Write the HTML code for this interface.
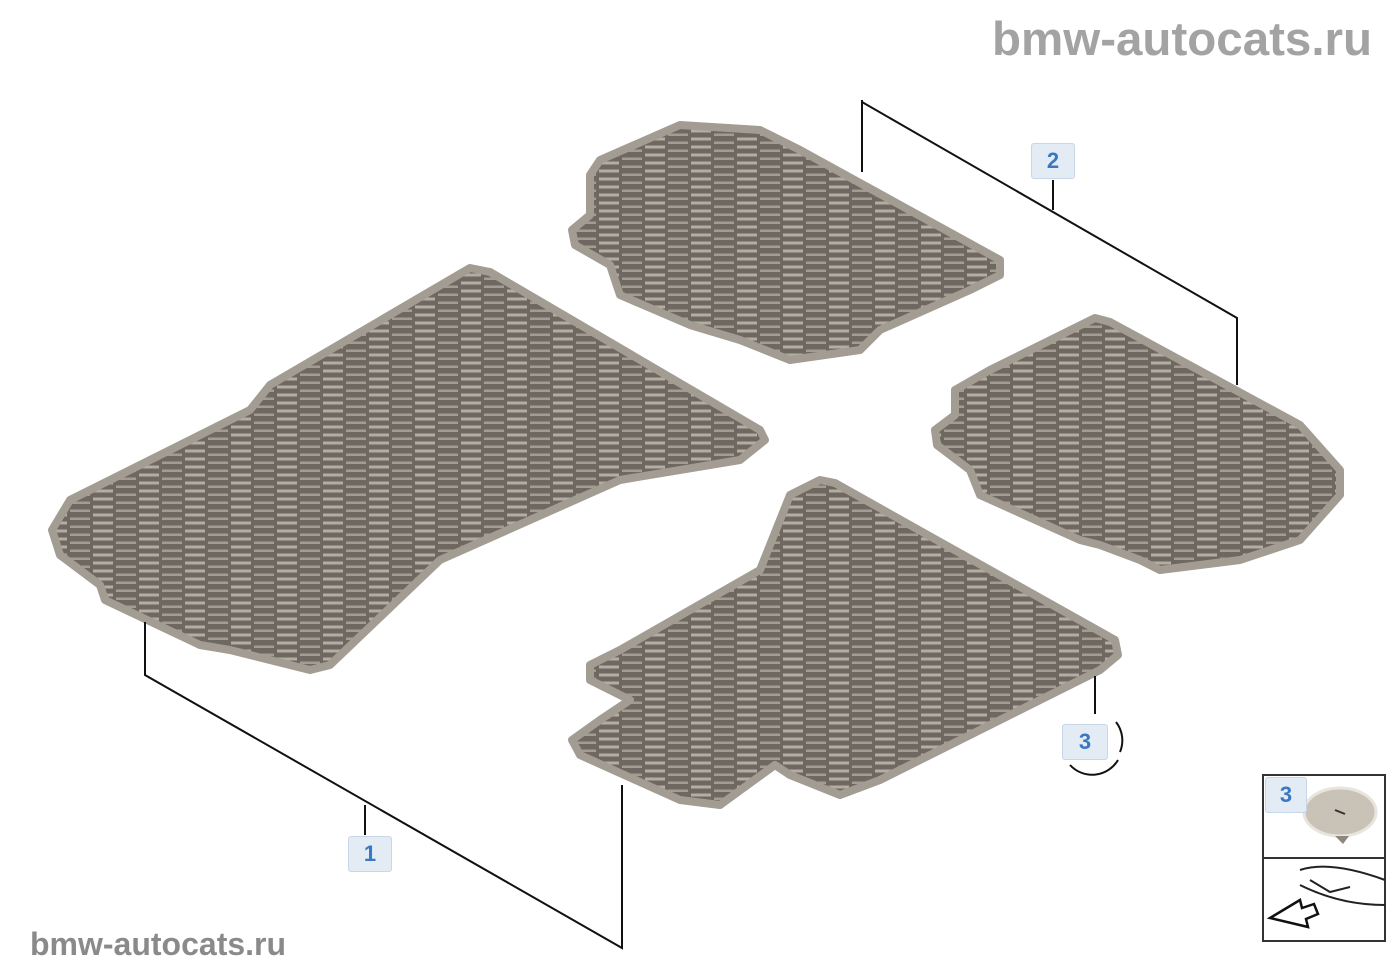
<!DOCTYPE html>
<html><head><style>
body{margin:0;background:#fff;width:1400px;height:980px;overflow:hidden;position:relative;font-family:"Liberation Sans",sans-serif}
.wm{position:absolute;color:#a3a3a3;font-weight:bold;white-space:nowrap}
.lb{position:absolute;width:42px;height:34px;background:#e3ebf4;border:1px solid #c9d6e6;border-radius:3px;color:#3a78c0;font-weight:bold;font-size:22px;text-align:center;line-height:34px}
</style></head><body>
<svg width="1400" height="980" style="position:absolute;left:0;top:0">
<defs>
<pattern id="st" width="46" height="8" patternUnits="userSpaceOnUse">
<rect width="46" height="8" fill="#6e6861"/>
<rect x="1" y="1.5" width="20" height="3" fill="#b3ada4"/>
<rect x="24" y="5.5" width="20" height="2.5" fill="#a29c93"/>
</pattern>
</defs>
<g stroke="#a29c92" stroke-width="8" stroke-linejoin="round" fill="url(#st)">
<polygon points="52,530 70,500 250,410 270,385 470,268 490,272 760,430 765,440 740,460 620,480 440,560 330,665 310,670 230,650 200,645 105,600 100,585 60,555"/>
<polygon points="590,175 600,160 680,125 760,130 800,150 1000,260 1000,275 970,290 880,330 860,350 790,360 740,340 690,325 620,295 610,265 575,245 572,230 590,215"/>
<polygon points="955,390 990,370 1095,318 1110,322 1300,425 1340,470 1340,495 1300,540 1240,560 1160,570 1140,560 1100,545 1080,540 980,495 970,470 937,445 935,430 955,415"/>
<polygon points="590,665 620,650 760,570 790,495 820,480 835,483 1115,640 1118,655 1100,670 1000,720 880,780 840,795 790,775 775,765 720,805 680,800 580,755 572,740 600,720 630,700 590,680"/>
</g>
<g stroke="#111" stroke-width="2" fill="none">
<polyline points="145,622 145,675 622,948 622,785"/>
<line x1="365" y1="805" x2="365" y2="835"/>
<polyline points="862,100 862,172"/>
<polyline points="862,102 1237,318 1237,385"/>
<line x1="1053" y1="180" x2="1053" y2="210"/>
<line x1="1095" y1="676" x2="1095" y2="714"/>
<path d="M1070,765 A30,30 0 0 0 1118,760 M1116,722 A30,30 0 0 1 1120,752" />
</g>
<rect x="1263" y="775" width="122" height="166" fill="#fff" stroke="#333" stroke-width="2"/>
<line x1="1263" y1="858" x2="1385" y2="858" stroke="#333" stroke-width="2"/>
<ellipse cx="1340" cy="812" rx="36" ry="24" fill="#c9c2b6" stroke="#e8e4de" stroke-width="3"/>
<path d="M1335,836 l8,8 l6,-8z" fill="#8d877d"/>
<line x1="1335" y1="810" x2="1345" y2="814" stroke="#333" stroke-width="2"/>
<path d="M1300,870 Q1330,860 1385,880 M1300,885 Q1340,905 1385,905 M1310,880 l20,12 l20,-5" stroke="#222" stroke-width="2" fill="none"/>
<path d="M1270,918 l30,-18 l2,8 l12,-4 l4,10 l-12,5 l2,8 z" fill="#fff" stroke="#111" stroke-width="2.5"/>
</svg>
<div class="wm" style="left:992px;top:12px;font-size:47.5px">bmw-autocats.ru</div>
<div class="wm" style="left:30px;top:926px;font-size:32px;color:#8a8a8a">bmw-autocats.ru</div>
<div class="lb" style="left:348px;top:836px">1</div>
<div class="lb" style="left:1031px;top:143px">2</div>
<div class="lb" style="left:1062px;top:724px;width:44px">3</div>
<div class="lb" style="left:1265px;top:777px;width:40px">3</div>
</body></html>
